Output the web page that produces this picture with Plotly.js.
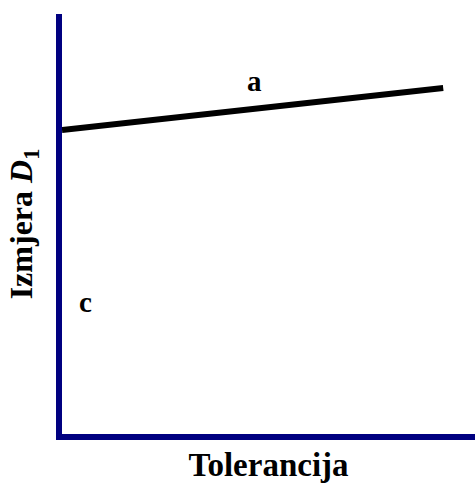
<!DOCTYPE html>
<html>
<head>
<meta charset="utf-8">
<script src="https://cdn.plot.ly/plotly-3.0.1.min.js"></script>
<style>html,body{margin:0;padding:0;background:#fff}#chart{width:475px;height:488px}</style>
</head>
<body>
<div id="chart"></div>
<script>
// Line "a" endpoints (data units: x 0-100, y 0-100)
const lineX = [0, 92.3];
const lineY = [72.4, 82.4];
// Label positions
const labelText = ['a', 'c'];
const labelX = [46.7, 5.8];
const labelY = [84.0, 31.4];
const xTitle = 'Tolerancija';
const yTitle = 'Izmjera <i>D</i><sub>1</sub>';

const serif = 'Liberation Serif, Times New Roman, serif';
const navy = '#000080';

const trace = {
  x: lineX, y: lineY, type: 'scatter', mode: 'lines',
  line: {color: '#000000', width: 6}, hoverinfo: 'skip', showlegend: false
};

const annotations = labelText.map((t, i) => ({
  x: labelX[i], y: labelY[i], xref: 'x', yref: 'y', text: t, showarrow: false,
  font: {family: serif, size: 29, color: '#000', weight: 'bold'}
}));

const axisCommon = {
  showline: true, linecolor: navy, linewidth: 6, showgrid: false, zeroline: false,
  showticklabels: false, ticks: '', fixedrange: true, automargin: false
};

const layout = {
  width: 475, height: 488,
  margin: {l: 62, r: 0, t: 14, b: 54},
  paper_bgcolor: '#fff', plot_bgcolor: '#fff',
  showlegend: false,
  xaxis: Object.assign({}, axisCommon, {range: [0, 100],
    title: {text: xTitle, standoff: 16, font: {family: serif, size: 33, color: '#000', weight: 'bold'}}}),
  yaxis: Object.assign({}, axisCommon, {range: [0, 100],
    title: {text: yTitle, standoff: 16, font: {family: serif, size: 32, color: '#000', weight: 'bold'}}}),
  annotations: annotations
};

Plotly.newPlot('chart', [trace], layout, {displayModeBar: false, staticPlot: true});
</script>
</body>
</html>
